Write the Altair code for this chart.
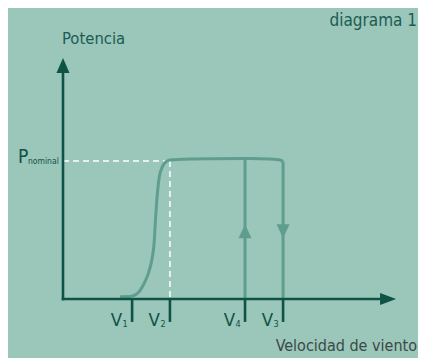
import altair as alt
import pandas as pd

# ---- data (schematic wind-turbine power curve) ----
curve_wind = [2.95, 3.47, 3.82, 4.16, 4.42, 4.60, 4.72, 4.80, 4.89, 4.99, 5.15, 5.34, 5.54, 6.58, 7.77, 9.69, 10.73, 11.24, 11.40]
curve_power = [0.017, 0.018, 0.036, 0.101, 0.186, 0.283, 0.406, 0.596, 0.766, 0.886, 0.959, 0.995, 1.007, 1.014, 1.016, 1.018, 1.014, 1.007, 0.996]

tick_names = ["V", "V", "V", "V"]
tick_subs = ["1", "2", "4", "3"]
tick_wind = [3.58, 5.54, 9.43, 11.40]

p_nominal = 1.0
v2 = 5.54
v4 = 9.43
v3 = 11.40
v4_top = 1.018
v3_top = 0.996
arrow_level = 0.49

x_max = 17.25
y_max = 1.746
x_axis_end = 16.42
y_axis_end = 1.638
x_head = 16.84
y_head = 1.692
tick_len = -0.166

BG = "#9bc6ba"
AXIS = "#0e5346"
CURVE = "#5f9e8f"
TXT = "#1b5c52"
TXT2 = "#3a4a45"
FONT = "DejaVu Sans Condensed, sans-serif"

xs = alt.Scale(domain=[0, x_max], range=[55, 388], nice=False, zero=False)
ys = alt.Scale(domain=[0, y_max], range=[291, 50], nice=False, zero=False)
X = lambda f: alt.X(f, type="quantitative", scale=xs, axis=None)
Y = lambda f: alt.Y(f, type="quantitative", scale=ys, axis=None)

curve_df = pd.DataFrame({"w": curve_wind, "p": curve_power})
curve = alt.Chart(curve_df).mark_line(color=CURVE, strokeWidth=3, interpolate="monotone", clip=False).encode(x=X("w"), y=Y("p"))

vert_df = pd.DataFrame({"w": [v4, v3], "p0": [0, 0], "p1": [v4_top, v3_top]})
verts = alt.Chart(vert_df).mark_rule(color=CURVE, strokeWidth=3).encode(x=X("w"), y=Y("p0"), y2="p1")

arr_df = pd.DataFrame({"w": [v4, v3], "p": [arrow_level, arrow_level], "s": ["up", "down"]})
arr_up = alt.Chart(arr_df[arr_df.s == "up"]).mark_point(shape="M-0.93,1L0,-1L0.93,1Z", size=196, filled=True, opacity=1, color=CURVE).encode(x=X("w"), y=Y("p"))
arr_dn = alt.Chart(arr_df[arr_df.s == "down"]).mark_point(shape="M-0.93,-1L0,1L0.93,-1Z", size=196, filled=True, opacity=1, color=CURVE).encode(x=X("w"), y=Y("p"))

dash_df = pd.DataFrame({"a": [0, v2], "b": [v2, v2], "c": [p_nominal, p_nominal], "d": [p_nominal, 0]})
dash_h = alt.Chart(dash_df.iloc[[0]]).mark_rule(color="white", strokeWidth=1.5, strokeDash=[6, 4]).encode(x=X("a"), x2="b", y=Y("c"))
dash_v = alt.Chart(dash_df.iloc[[1]]).mark_rule(color="white", strokeWidth=1.5, strokeDash=[6, 4]).encode(x=X("b"), y=Y("c"), y2="d")

ax_df = pd.DataFrame({"x0": [0], "x1": [x_axis_end], "y0": [0], "y1": [y_axis_end]})
x_axis = alt.Chart(ax_df).mark_rule(color=AXIS, strokeWidth=2.6, strokeCap="square").encode(x=X("x0"), x2="x1", y=Y("y0"))
y_axis = alt.Chart(ax_df).mark_rule(color=AXIS, strokeWidth=2.6, strokeCap="square").encode(x=X("x0"), y=Y("y0"), y2="y1")
head_df = pd.DataFrame({"x": [x_head, 0], "y": [0, y_head]})
x_headm = alt.Chart(head_df.iloc[[0]]).mark_point(shape="M-1,-0.75L1,0L-1,0.75Z", size=256, filled=True, opacity=1, color=AXIS).encode(x=X("x"), y=Y("y"))
y_headm = alt.Chart(head_df.iloc[[1]]).mark_point(shape="M-0.87,1L0,-1L0.87,1Z", size=225, filled=True, opacity=1, color=AXIS).encode(x=X("x"), y=Y("y"))

tick_df = pd.DataFrame({"w": tick_wind, "n": tick_names, "s": tick_subs, "y0": [0] * 4, "y1": [tick_len] * 4})
ticks = alt.Chart(tick_df).mark_rule(color=AXIS, strokeWidth=2.6).encode(x=X("w"), y=Y("y0"), y2="y1")
tick_v = alt.Chart(tick_df).mark_text(font=FONT, fontSize=18.5, color=AXIS, align="right", baseline="alphabetic", dx=-10, dy=27).encode(x=X("w"), y=Y("y0"), text="n")
tick_s = alt.Chart(tick_df).mark_text(font=FONT, fontSize=9, color=AXIS, align="left", baseline="alphabetic", dx=-9.5, dy=28).encode(x=X("w"), y=Y("y0"), text="s")

pn_df = pd.DataFrame({"x": [0], "y": [p_nominal], "P": ["P"], "sub": ["nominal"]})
pn_P = alt.Chart(pn_df).mark_text(font=FONT, fontSize=19, color=AXIS, align="left", baseline="alphabetic", dx=-45, dy=2).encode(x=X("x"), y=Y("y"), text="P")
pn_s = alt.Chart(pn_df).mark_text(font=FONT, fontSize=8.5, color=AXIS, align="left", baseline="alphabetic", dx=-35, dy=3).encode(x=X("x"), y=Y("y"), text="sub")

lab_df = pd.DataFrame({"x": [0, x_max, x_max], "y": [y_max, 0, y_max], "t": ["Potencia", "Velocidad de viento", "diagrama 1"]})
lab_pot = alt.Chart(lab_df.iloc[[0]]).mark_text(font=FONT, fontSize=16.5, color=TXT, align="left", baseline="alphabetic", dx=-1, dy=-14).encode(x=X("x"), y=Y("y"), text="t")
lab_vel = alt.Chart(lab_df.iloc[[1]]).mark_text(font=FONT, fontSize=16, color=TXT2, align="right", baseline="alphabetic", dx=21, dy=52).encode(x=X("x"), y=Y("y"), text="t")
lab_dia = alt.Chart(lab_df.iloc[[2]]).mark_text(font=FONT, fontSize=17, color=TXT, align="right", baseline="alphabetic", dx=21, dy=-32).encode(x=X("x"), y=Y("y"), text="t")

chart = alt.layer(
    dash_h, dash_v, curve, verts, arr_up, arr_dn,
    x_axis, y_axis, x_headm, y_headm, ticks, tick_v, tick_s,
    pn_P, pn_s, lab_pot, lab_vel, lab_dia,
).properties(
    width=410, height=350, padding=0, background=BG,
    autosize=alt.AutoSizeParams(type="none"),
).configure_view(stroke=None)

chart.save("out.html", embed_options={"renderer": "svg", "actions": False})
